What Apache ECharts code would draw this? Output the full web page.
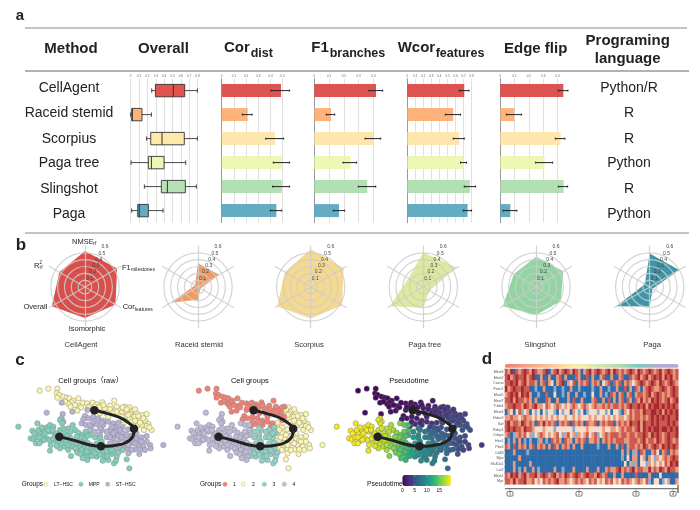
<!DOCTYPE html>
<html><head><meta charset="utf-8">
<style>html,body{margin:0;padding:0;background:#fff}#c{width:700px;height:510px}</style>
<script src="https://cdn.jsdelivr.net/npm/echarts@6/dist/echarts.min.js"></script>
</head><body><div id="c"></div>
<script>
// ---------- panel a data ----------
const methods = ['CellAgent','Raceid stemid','Scorpius','Paga tree','Slingshot','Paga'];
const languages = ['Python/R','R','R','Python','R','Python'];
const overallBox = [
 [.251,.295,.509,.645,.796],
 [0,.012,.02,.135,.247],
 [.19,.239,.374,.64,.796],
 [.004,.211,.247,.398,.657],
 [.163,.366,.438,.653,.784],
 [.012,.084,.103,.211,.386]];
const corDist = [.486,.213,.437,.495,.492,.448];
const corDistErr = [[.404,.557],[.169,.249],[.361,.508],[.423,.557],[.418,.557],[.399,.492]];
const f1Branches = [.417,.113,.399,.246,.358,.167];
const f1BranchesErr = [[.37,.462],[.081,.138],[.343,.449],[.194,.286],[.297,.415],[.128,.205]];
const wcorFeatures = [.709,.572,.647,.705,.779,.75];
const wcorFeaturesErr = [[.647,.767],[.473,.663],[.572,.709],[.663,.738],[.709,.85],[.696,.8]];
const edgeFlip = [.44,.098,.421,.309,.442,.07];
const edgeFlipErr = [[.405,.472],[.042,.149],[.384,.451],[.247,.365],[.405,.47],[.019,.116]];
// ---------- panel b data (order: NMSE, R2, Overall, Isomorphic, Cor, F1) ----------
const radarCellAgent = [.528,.433,.56,.453,.515,.542];
const radarRaceid = [.349,.049,.453,.188,.041,.357];
const radarScorpius = [.551,.437,.564,.462,.531,.556];
const radarPagaTree = [.504,.253,.564,.302,.106,.568];
const radarSlingshot = [.441,.376,.56,.409,.417,.462];
const radarPaga = [.49,.082,.564,.286,.049,.498];
const radarTicks = [.1,.2,.3,.4,.5,.6];
// ---------- panel c data: x, y, group, pseudotime ----------
const cellsST = [
[140,188,4,.9],[185,158,1,.5],[217,185,1,.8],[188,192,4,.9],[185,205,4,19],[190,215,4,19],[262,180,1,1],[255,198,1,1.1],[250,208,1,1.3],[245,220,4,16],
[265,205,1,1.4],[280,200,1,1.4],[295,205,1,1.7],[310,212,1,2],[258,225,4,15],[270,240,4,14],[275,228,1,2.2],[290,222,1,2.3],[310,225,1,2.6],[325,215,1,2.7],
[340,220,1,3],[355,218,2,3.4],[368,232,2,4.5],[385,238,2,5],[345,232,3,5.5],[330,240,3,6.5],[350,250,3,6.5],[370,250,2,6],[390,258,2,5.6],[340,265,3,8],
[360,268,2,7.2],[375,265,2,6.5],[395,280,2,6],[410,265,2,5],[425,262,2,4.7],[440,258,2,4.5],[415,285,2,5],[430,290,2,4.4],[450,285,2,4],[452,295,2,3.9],
[405,298,2,5.5],[418,312,2,5.4],[370,290,2,7.5],[385,298,2,7],[385,310,2,7],[490,285,2,3.6],[320,262,3,9],[330,280,3,9.5],[345,278,3,8.5],[320,245,3,7.5],
[305,240,3,8.5],[355,235,2,5],[410,250,2,4.8],[440,275,2,4.2],[395,270,2,5.5],[375,280,2,7],[345,295,3,8.8],[300,255,3,9.5],
[360,240,2,5.2],[345,245,3,6],[335,255,3,7.2],[355,258,2,6.8],[365,262,2,6.5],[380,255,2,6],[400,255,2,5.2],[420,272,2,4.6],[405,280,2,5.2],[385,285,2,6.5],
[355,285,2,7.8],[362,295,2,7.8],[425,275,2,4.5],[435,300,2,4.2],[395,300,2,6],[420,298,2,5],[340,250,3,6.8],[330,262,3,8.2],[285,245,3,10],[270,225,4,14],
[300,235,3,8],[335,230,1,4],[280,215,1,1.9],[305,218,1,2.3]];
const cellsLT = [
[119,122,1,.3],[145,116,1,.3],[172,116,1,.4],[170,130,1,.3],[178,135,1,.4],[172,143,1,.5],[190,140,1,.5],[200,143,1,.6],[208,145,1,.6],[220,152,1,.7],
[235,145,1,.6],[214,157,1,.7],[206,162,1,.7],[212,170,1,.8],[236,168,1,.8],[243,172,1,.9],[232,182,1,.9],[248,158,1,.8],[262,160,1,.9],[270,168,1,.9],
[278,158,1,.8],[290,163,1,1],[307,157,1,1.2],[330,167,1,1.6],[343,152,1,1.2],[285,170,1,.9],[298,172,1,1.2],[315,175,1,1.5],[330,178,1,1.8],[345,180,1,2.1],
[360,178,1,2.4],[375,170,1,2.6],[388,172,2,2.8],[365,188,1,2.8],[380,185,2,3],[395,185,2,3.2],[410,190,2,3.5],[425,195,2,3.8],[440,192,2,3.9],[403,200,2,3.8],
[418,208,2,4.2],[435,212,2,4.4],[445,222,2,4.5],[455,240,2,4.8],[432,240,2,5],[415,225,2,4.8],[390,205,2,3.8],[375,200,1,3.4],[355,195,1,2.8],[340,188,1,2.4],
[320,190,1,2],[300,190,1,1.6],[395,215,2,4.4],[372,218,2,4.5],[440,228,2,4.7],[425,225,2,4.8],[405,178,2,3.1],
[350,170,1,2.2],[368,172,1,2.5],[380,178,2,2.9],[390,192,2,3.3],[415,198,2,3.8],[430,205,2,4.1],[350,185,1,2.5],[370,210,1,3.6],[385,195,2,3.4],[405,212,2,4.2],
[420,218,2,4.5],[448,232,2,4.7],[365,200,1,3.2],[325,200,1,2.1],[310,165,1,1.3],[265,172,1,.9],[225,165,1,.8],[195,155,1,.6]];
const cellsMPP = [
[55,230,4,19.5],[112,220,4,19.5],[180,210,4,19],[186,220,4,18.5],[205,235,4,18],[218,225,4,17],[225,240,4,17],[235,248,4,16],[247,255,4,15],[257,245,4,15],
[97,242,4,19.7],[103,250,4,19.7],[92,265,4,19.7],[100,268,4,19.7],[110,262,4,19.6],[120,250,4,19.6],[130,240,4,19.5],[140,232,4,19.5],[150,225,4,19.5],[160,230,4,19.3],
[128,260,4,19.5],[140,265,4,19.5],[125,272,4,19.5],[108,280,4,19.6],[152,285,4,19.2],[150,302,4,19],[148,270,4,19.2],[165,272,4,18.8],[175,275,4,18.5],[185,282,4,18],
[195,290,4,17.5],[210,280,4,17],[222,272,4,16.5],[230,285,4,16],[240,292,4,15],[252,290,4,14.5],[263,295,4,13.8],[213,318,4,16],[230,300,4,15.5],[245,300,4,14.5],
[255,310,4,14],[265,320,4,13.5],[270,305,4,13],[285,262,3,11],[300,265,3,10],[305,275,3,9.8],[290,280,3,11],[280,290,3,11.5],[295,300,3,10.5],[310,305,3,9.8],
[320,305,3,9.5],[330,295,3,9.2],[315,320,3,9.5],[325,330,3,9],[342,340,3,8.5],[350,320,3,8.5],[335,312,3,9],[290,320,3,10.5],[262,330,4,13],[300,315,3,10],
[380,328,2,7.5],[388,355,2,7],[340,305,3,8.5],[368,300,2,7.5],[355,308,3,8],[180,240,4,18.5],[195,250,4,18],[210,262,4,17.2],[150,245,4,19.2],[165,255,4,19],
[135,250,4,19.4],[255,265,4,14.5],[270,255,4,13],[240,270,4,15.5],[205,300,4,17],[280,305,3,11.5],
[115,240,4,19.6],[125,232,4,19.5],[145,240,4,19.4],[158,240,4,19.2],[170,250,4,19],[118,262,4,19.5],[132,270,4,19.5],[118,280,4,19.6],[160,265,4,19],[172,262,4,18.8],
[188,268,4,18],[198,272,4,17.6],[205,285,4,17.2],[218,290,4,16.5],[226,295,4,16],[232,308,4,15.5],[242,312,4,15],[250,280,4,15],[262,278,4,14],[272,285,4,12.5],
[260,305,4,13.8],[248,325,4,14],[275,318,3,12],[285,310,3,11.5],[298,290,3,10.5],[315,290,3,9.7],[322,318,3,9.2],[308,332,3,9.6],[335,300,3,8.9],[348,332,3,8.3],
[200,258,4,17.8],[212,245,4,17.5],[190,235,4,18.5],[242,262,4,15.5],[230,260,4,16],[180,295,4,18],[170,288,4,18.5],[262,258,4,14]];
const trajectoryPath = [[283,181],[320,190],[360,203],[385,218],[402,236],[398,260],[375,279],[340,287],[303,289],[270,285],[225,272],[178,260]];
const trajectoryNodes = [[283,181],[402,236],[303,289],[178,260]];
const rawGroups = ['LT\u2212HSC','MPP','ST\u2212HSC'];
const pseudotimeTicks = [0,5,10,15];
// ---------- panel d data: one digit per column, 0 = low, 5 = high ----------
const geneNames = ['Mest3','Mest2','Cacna','Foxn1','Mest5','Mest7','Tubb4','Mest4','Hdac9','Ikzf','Rxfrp1','Cebpa','Hes1','Pbx3','Cd48','Mpo','Slc40a1','Lat2','Mest1','Myc'];
const heatRows = [
"43504345 43543345 03453454 35430345 34543453 54343454 35434543 45345434",
"45345445 34500300 30034030 00430040 30034003 00340043 45345345 45354534",
"44545345 34430340 32034503 24034340 34302340 43403432 34543454 35434543",
"53454454 40010030 00100100 30010000 10030010 03004030 43034543 34543454",
"34545354 53001004 00200103 00300100 20030104 30340340 34434534 54343454",
"44535443 43030004 30030003 04003000 34003040 30340430 43534354 54345345",
"34454435 43453324 32343232 34323432 34334343 44343454 45453545 54545454",
"03202412 30212021 22102122 03212012 22122120 22103243 44354455 45354545",
"33433234 33232323 23232232 23232223 23223232 32332343 44343454 54545445",
"45344354 34304353 43403434 04343043 34034344 03434354 45354454 54445454",
"45454435 44322232 22122222 21222232 22223223 32343443 45354545 54554545",
"34013434 23123432 32342134 23132342 34123434 44344344 34454354 54345445",
"01030301 01001301 04343043 30343403 34303434 34443344 43453443 54345434",
"43040343 03403430 30430343 03003000 00100030 03040344 34354345 43545454",
"00030000 10000000 00000000 00000000 00000000 00030301 30430034 20340343",
"00000300 00000000 00000000 00000000 00000000 00010203 30230321 32343454",
"00030000 03000000 00000000 00000000 00000000 00002031 30221323 23243545",
"00030103 00301000 00300100 03000030 00300343 34534345 34433534 35435443",
"43545345 34453454 34534354 34543454 43543400 30030000 40000300 02000000",
"44353445 33423243 43453343 23434324 34232434 23243432 34324102 20123003"];
const stageLabels = ['1','2','3','4'];

// ---------- styling ----------
const FONT = '"Liberation Sans","Noto Sans CJK SC",Arial,sans-serif';
const boxColors = ['#E2524F','#FDB27A','#FEE8AC','#EDF7B4','#B6E1B4','#63ABC0'];
const barColors = ['rgba(218,60,58,.88)','rgba(253,168,104,.88)','rgba(254,226,160,.88)','rgba(234,247,170,.88)','rgba(168,220,168,.88)','rgba(78,160,184,.88)'];
const radarColors = ['#D94F4C','#F39A5E','#F5D98F','#DDE99C','#92D5A2','#3F94A8'];
const viridis = ['#440154','#482878','#3e4989','#31688e','#26828e','#1f9e89','#35b779','#6ece58','#b5de2b','#fde725'];

const grids=[],xAxes=[],yAxes=[],series=[],g=[];
function text(x,y,s,o){o=o||{};g.push({type:'text',x:x,y:y,silent:true,z:50,style:{text:s,fontFamily:FONT,fontSize:o.size||8,fontWeight:o.bold?'bold':'normal',fill:o.fill||'#222',align:o.align||'center',verticalAlign:'middle'}});}
function rule(x1,y1,x2,y2,c,w){g.push({type:'line',silent:true,z:40,shape:{x1:x1,y1:y1,x2:x2,y2:y2},style:{stroke:c,lineWidth:w}});}
function addGrid(o){const gi=grids.length;grids.push(o.grid);xAxes.push(Object.assign({gridIndex:gi},o.x));yAxes.push(Object.assign({gridIndex:gi},o.y));return gi;}

// panel a columns
const catY={type:'category',data:methods,inverse:true,axisTick:{show:false},axisLabel:{show:false}};
function valX(max){return {type:'value',min:0,max:max,interval:.1,position:'top',axisLine:{show:false},axisTick:{show:false},
  axisLabel:{fontSize:3,margin:1,color:'#666',fontFamily:FONT,hideOverlap:false},splitLine:{show:true,lineStyle:{color:'#e0e0e0',width:1}}};}
function errorSeries(gi,err){
  series.push({type:'custom',xAxisIndex:gi,yAxisIndex:gi,z:5,silent:true,
    data:err.map((e,i)=>[i,e[0],e[1]]),encode:{y:0,x:[1,2]},
    renderItem:(p,api)=>{const a=api.coord([api.value(1),api.value(0)]),b=api.coord([api.value(2),api.value(0)]);
      const st={stroke:'#222',lineWidth:1};
      return {type:'group',children:[
        {type:'line',shape:{x1:a[0],y1:a[1],x2:b[0],y2:b[1]},style:st},
        {type:'line',shape:{x1:a[0],y1:a[1]-1,x2:a[0],y2:a[1]+1},style:st},
        {type:'line',shape:{x1:b[0],y1:b[1]-1,x2:b[0],y2:b[1]+1},style:st}]};}});
}
function barColumn(left,width,max,vals,err){
  const gi=addGrid({grid:{left:left,width:width,top:78.6,height:144},x:valX(max),
    y:Object.assign({},catY,{axisLine:{show:true,lineStyle:{color:'#999',width:1}}})});
  series.push({type:'bar',xAxisIndex:gi,yAxisIndex:gi,barWidth:13,clip:false,z:3,silent:true,
    data:vals.map((v,i)=>({value:v,itemStyle:{color:barColors[i]}}))});
  errorSeries(gi,err);
}
// overall box plots
(function(){
  const gi=addGrid({grid:{left:130.7,width:67,top:78.6,height:144},x:valX(.8),y:Object.assign({},catY,{axisLine:{show:false}})});
  series.push({type:'custom',xAxisIndex:gi,yAxisIndex:gi,z:4,silent:true,
    data:overallBox.map((b,i)=>[i].concat(b)),encode:{y:0,x:[1,2,3,4,5]},
    renderItem:(p,api)=>{
      const i=api.value(0),X=k=>api.coord([api.value(k),i])[0],y=api.coord([0,i])[1],h=6.2,cap=2.2;
      const ln={stroke:'#333',lineWidth:.9};
      return {type:'group',children:[
        {type:'line',shape:{x1:X(1),y1:y,x2:X(2),y2:y},style:ln},
        {type:'line',shape:{x1:X(4),y1:y,x2:X(5),y2:y},style:ln},
        {type:'line',shape:{x1:X(1),y1:y-cap,x2:X(1),y2:y+cap},style:ln},
        {type:'line',shape:{x1:X(5),y1:y-cap,x2:X(5),y2:y+cap},style:ln},
        {type:'rect',shape:{x:X(2),y:y-h,width:X(4)-X(2),height:2*h},style:{fill:boxColors[i],stroke:'#333',lineWidth:.9}},
        {type:'line',shape:{x1:X(3),y1:y-h,x2:X(3),y2:y+h},style:{stroke:'#333',lineWidth:1}}]};}});
})();
barColumn(221.7,61,.5,corDist,corDistErr);
barColumn(314.3,59.2,.4,f1Branches,f1BranchesErr);
barColumn(407.3,64.3,.8,wcorFeatures,wcorFeaturesErr);
barColumn(500.3,57.3,.4,edgeFlip,edgeFlipErr);

// panel a text
rule(25,28,687,28,'#888',1);rule(25,71,689,71,'#666',1);rule(25,233,689,233,'#888',1);
text(20,16,'a',{size:15,bold:true});text(21,245,'b',{size:17,bold:true});text(20,360,'c',{size:17,bold:true});text(487,359,'d',{size:17,bold:true});
const H={size:15,bold:true};
text(71,48.5,'Method',H);text(163.5,48.5,'Overall',H);
text(224,48,'Cor',Object.assign({align:'left'},H));text(250.7,54,'dist',{size:12.5,bold:true,align:'left'});
text(311.3,48,'F1',Object.assign({align:'left'},H));text(329.7,54,'branches',{size:12.5,bold:true,align:'left'});
text(397.7,48,'Wcor',Object.assign({align:'left'},H));text(435.7,54,'features',{size:12.5,bold:true,align:'left'});
text(535.7,49,'Edge flip',H);text(627.7,41,'Programing',H);text(627.7,59,'language',H);
const rowTextY=[88,113.6,138.7,163,189,213.7];
methods.forEach((m,i)=>{text(69,rowTextY[i],m,{size:14});text(629,rowTextY[i],languages[i],{size:14});});

// panel b radars
const radarValues=[radarCellAgent,radarRaceid,radarScorpius,radarPagaTree,radarSlingshot,radarPaga];
const radarCenters=[[85,287],[198,287],[310.7,287],[423.3,287],[536,287],[649.7,287]];
const radarTitles=[[81,'CellAgent'],[199,'Raceid stemid'],[309,'Scorpius'],[424.7,'Paga tree'],[540,'Slingshot'],[652,'Paga']];
const radarNames=['NMSE','R2','Overall','Isomorphic','Cor','F1'];
const ringCol='rgba(205,205,205,.85)';
const radars=radarCenters.map(c=>({center:c,radius:41,startAngle:90,splitNumber:6,z:6,
  indicator:radarNames.map(n=>({name:n,max:.6,min:0})),axisName:{show:false},shape:'circle',
  axisLine:{lineStyle:{color:ringCol,width:1.2}},axisTick:{show:false},splitArea:{show:false},
  splitLine:{lineStyle:{color:[ringCol,ringCol,ringCol,ringCol,ringCol,ringCol,'rgba(0,0,0,0)'],width:1.2}}}));
radarValues.forEach((v,i)=>{
  series.push({type:'radar',radarIndex:i,symbol:'none',silent:true,z:3,lineStyle:{width:0},
    areaStyle:{color:radarColors[i],opacity:1},data:[{value:v}]});
  const c=radarCenters[i];
  radarTicks.forEach((t,k)=>text(c[0]+4.5+k*3.1,c[1]-8.8-k*6.25,String(t),{size:5,fill:'#444'}));
  text(radarTitles[i][0],345,radarTitles[i][1],{size:7.6,fill:'#333'});
});
const L={size:7.5,align:'left'},S={size:5,align:'left'};
text(72,242.3,'NMSE',L);text(93.3,244,'rf',S);
text(122,268,'F1',L);text(131,270,'milestones',S);
text(122.7,307,'Cor',L);text(134.7,310,'features',S);
text(87,328.7,'Isomorphic',{size:7.5});
text(23.5,307,'Overall',L);
text(34,265.7,'R',L);text(39.5,263,'2',{size:4.5,align:'left'});text(39.5,267.6,'rf',S);

// panel c
const allCells=cellsST.concat(cellsLT,cellsMPP);
function scatterGrid(k){return addGrid({grid:{left:k*159.2,top:350,width:180,height:160},
  x:{type:'value',min:0,max:540,show:false},y:{type:'value',min:0,max:480,inverse:true,show:false}});}
function sc(gi,name,cells,color){series.push({type:'scatter',name:name,xAxisIndex:gi,yAxisIndex:gi,symbolSize:5.4,silent:true,z:3,
  itemStyle:{color:color,borderColor:'#8a8a8a',borderWidth:.5,opacity:1},data:cells.map(c=>[c[0],c[1]])});}
function traj(gi){
  series.push({type:'line',xAxisIndex:gi,yAxisIndex:gi,data:trajectoryPath,smooth:.35,symbol:'none',silent:true,z:6,lineStyle:{color:'#222',width:3}});
  series.push({type:'scatter',xAxisIndex:gi,yAxisIndex:gi,data:trajectoryNodes,symbolSize:8.5,silent:true,z:7,itemStyle:{color:'#222',opacity:1}});
}
const g1=scatterGrid(0),g2=scatterGrid(1),g3=scatterGrid(2);
sc(g1,rawGroups[0],cellsLT,'#FBF6A9');sc(g1,rawGroups[2],cellsST,'#B6B1D6');sc(g1,rawGroups[1],cellsMPP,'#7FD0BA');traj(g1);
[[2,'#FDF6AE'],[1,'#F57F74'],[3,'#8DD3C7'],[4,'#BEBADA']].forEach(p=>sc(g2,String(p[0]),allCells.filter(c=>c[2]===p[0]),p[1]));traj(g2);
const ptIndex=series.length;
series.push({type:'scatter',name:'Pseudotime',xAxisIndex:g3,yAxisIndex:g3,symbolSize:5.4,silent:true,z:3,
  itemStyle:{borderColor:'#666',borderWidth:.4,opacity:1},data:allCells.map(c=>[c[0],c[1],c[3]])});traj(g3);

// panel c text
const T={size:7.5,fill:'#111'};
text(90.7,381,'Cell groups\uFF08raw\uFF09',T);text(249.9,381,'Cell groups',T);text(409,381,'Pseudotime',T);
text(21.7,484.3,'Groups',{size:6.5,align:'left',fill:'#111'});
function dot(x,y,c){g.push({type:'circle',silent:true,z:50,shape:{cx:x,cy:y,r:2.2},style:{fill:c,stroke:'#aaa',lineWidth:.3}});}
const LG={size:5,align:'left',fill:'#111'};
dot(46,484.3,'#FBF6A9');text(54,484.3,rawGroups[0],LG);
dot(81,484.3,'#7FD0BA');text(88.7,484.3,rawGroups[1],LG);
dot(107.7,484.3,'#B6B1D6');text(115.7,484.3,rawGroups[2],LG);
text(200,484.3,'Groups',{size:6.5,align:'left',fill:'#111'});
dot(225,484.3,'#F57F74');text(233,484.3,'1',LG);
dot(243.3,484.3,'#FDF6AE');text(252,484.3,'2',LG);
dot(264.3,484.3,'#8DD3C7');text(272.5,484.3,'3',LG);
dot(284.3,484.3,'#BEBADA');text(292.5,484.3,'4',LG);
text(367,484.3,'Pseudotime',{size:6.8,align:'left',fill:'#111'});
pseudotimeTicks.forEach(t=>{const x=402.3+t*2.46;text(x,490.3,String(t),{size:5,fill:'#111'});
  rule(x,475,x,476.5,'#fff',.4);rule(x,484.5,x,486,'#fff',.4);});

// panel d heatmap
const rows=heatRows.map(r=>r.replace(/ /g,''));
const heatData=[];rows.forEach((r,y)=>{for(let x=0;x<r.length;x++)heatData.push([x,y,+r[x]]);});
const colCats=rows[0].split('').map((_,i)=>String(i));
const gh=addGrid({grid:{left:505,top:369,width:173.3,height:115.3},
  x:{type:'category',data:colCats,show:false},
  y:{type:'category',data:geneNames,inverse:true,axisLine:{show:false},axisTick:{show:true,length:1,lineStyle:{color:'#555',width:.4}},
     axisLabel:{fontSize:3.6,margin:1.5,color:'#555',fontFamily:FONT,interval:0}}});
const heatIndex=series.length;
series.push({type:'heatmap',xAxisIndex:gh,yAxisIndex:gh,silent:true,data:heatData,progressive:0,itemStyle:{borderWidth:0}});
g.push({type:'rect',silent:true,z:40,shape:{x:505,y:364,width:173.3,height:3.7,r:1.5},style:{fill:{type:'linear',x:0,y:0,x2:1,y2:0,colorStops:[
  {offset:0,color:'#F57F74'},{offset:.27,color:'#FBC79B'},{offset:.42,color:'#F7F0A8'},{offset:.65,color:'#B7DDB0'},{offset:.76,color:'#7FCDB9'},{offset:.9,color:'#B1ABD6'},{offset:1,color:'#B1ABD6'}]}}});
rule(505,488.7,678,488.7,'#777',1.2);rule(678,485,678,493,'#5a4a2a',1.2);
[510,579,636,673].forEach((x,i)=>{
  g.push({type:'rect',silent:true,z:45,shape:{x:x-3,y:491.5,width:6,height:4.6,r:1},style:{fill:'#fff',stroke:'#222',lineWidth:.6}});
  text(x,493.9,stageLabels[i],{size:3.6,fill:'#111'});
  rule(x,488.7,x,491.5,'#555',.4);
});

const chart=echarts.init(document.getElementById('c'),null,{renderer:'canvas'});
chart.setOption({animation:false,backgroundColor:'#fff',tooltip:{show:false},legend:{show:false},
  grid:grids,xAxis:xAxes,yAxis:yAxes,radar:radars,series:series,
  visualMap:[
   {type:'continuous',min:0,max:19.8,seriesIndex:ptIndex,dimension:2,orient:'horizontal',left:402.3,top:475,padding:0,itemWidth:11,itemHeight:48.7,
    calculable:false,hoverLink:false,showLabel:false,text:null,inRange:{color:viridis},align:'bottom'},
   {type:'continuous',show:false,min:0,max:5,seriesIndex:heatIndex,dimension:2,inRange:{color:['#2F6AA8','#86ADCF','#F5DCCB','#E99A7C','#CC5A50','#A8282F']}}],
  graphic:{elements:g}});
</script></body></html>
